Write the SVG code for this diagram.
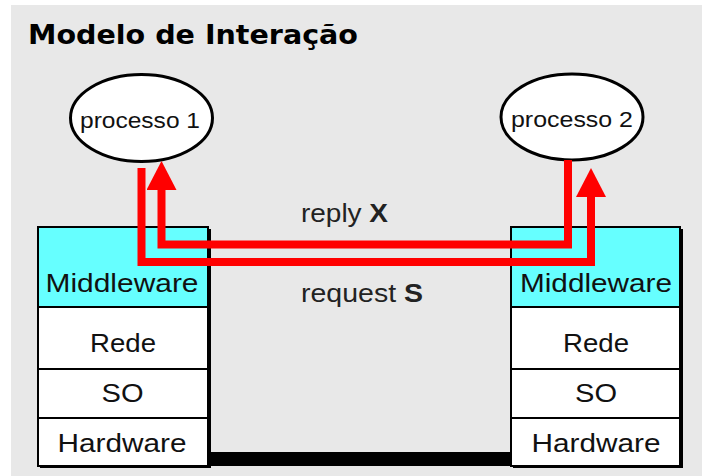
<svg xmlns="http://www.w3.org/2000/svg" width="702" height="476" viewBox="0 0 702 476">
  <style>
    .title { font-family: Verdana, "DejaVu Sans", sans-serif; font-weight: bold; font-size: 27px; fill: #000; }
    .proc { fill: #fff; stroke: #000; stroke-width: 3; }
    .proc-label { font-family: "Comic Sans MS", "Liberation Sans", sans-serif; font-size: 22px; fill: #111; text-anchor: middle; }
    .layer { stroke: #000; stroke-width: 2; }
    .mw { fill: #66ffff; }
    .plain { fill: #fff; }
    .shadow { fill: #000; }
    .layer-label { font-family: "Comic Sans MS", "Liberation Sans", sans-serif; font-size: 26px; fill: #111; text-anchor: middle; }
    .msg { font-family: "Liberation Sans", Arial, sans-serif; font-size: 26px; fill: #222; }
    .msg .b { font-weight: bold; }
    .wire { fill: none; stroke: #ff0000; stroke-width: 8; stroke-linejoin: miter; stroke-linecap: butt; }
  </style>
  <defs>
    <marker id="arrow" markerUnits="userSpaceOnUse" viewBox="0 0 29 30" markerWidth="29" markerHeight="30" refX="0" refY="15" orient="auto">
      <path d="M0,0 L29,15 L0,30 Z" fill="#ff0000"/>
    </marker>
  </defs>

  <!-- panel background -->
  <rect x="11" y="5" width="691" height="471" fill="#e8e8e8"/>

  <text class="title" x="28" y="44" textLength="330" lengthAdjust="spacingAndGlyphs">Modelo de Interação</text>

  <!-- processes -->
  <g id="processo1">
    <ellipse class="proc" cx="141.5" cy="118" rx="71" ry="43.5"/>
    <text class="proc-label" x="140" y="128" textLength="120" lengthAdjust="spacingAndGlyphs">processo 1</text>
  </g>
  <g id="processo2">
    <ellipse class="proc" cx="572" cy="117" rx="71" ry="43"/>
    <text class="proc-label" x="572" y="127" textLength="122" lengthAdjust="spacingAndGlyphs">processo 2</text>
  </g>

  <!-- left host stack -->
  <g id="host1">
    <rect class="shadow" x="40" y="229" width="171" height="239"/>
    <rect class="layer mw" x="38" y="227" width="170" height="80"/>
    <rect class="layer plain" x="38" y="307" width="170" height="62"/>
    <rect class="layer plain" x="38" y="369" width="170" height="49"/>
    <rect class="layer plain" x="38" y="418" width="170" height="48"/>
    <text class="layer-label" x="122" y="292" textLength="153" lengthAdjust="spacingAndGlyphs">Middleware</text>
    <text class="layer-label" x="123" y="352" textLength="66" lengthAdjust="spacingAndGlyphs">Rede</text>
    <text class="layer-label" x="122.5" y="401.5" textLength="42" lengthAdjust="spacingAndGlyphs">SO</text>
    <text class="layer-label" x="122" y="451.5" textLength="129" lengthAdjust="spacingAndGlyphs">Hardware</text>
  </g>

  <!-- right host stack -->
  <g id="host2">
    <rect class="shadow" x="513" y="229" width="170" height="239"/>
    <rect class="layer mw" x="511" y="227" width="169" height="80"/>
    <rect class="layer plain" x="511" y="307" width="169" height="62"/>
    <rect class="layer plain" x="511" y="369" width="169" height="49"/>
    <rect class="layer plain" x="511" y="418" width="169" height="48"/>
    <text class="layer-label" x="596" y="291.5" textLength="152" lengthAdjust="spacingAndGlyphs">Middleware</text>
    <text class="layer-label" x="596" y="352" textLength="66" lengthAdjust="spacingAndGlyphs">Rede</text>
    <text class="layer-label" x="596" y="401.5" textLength="42" lengthAdjust="spacingAndGlyphs">SO</text>
    <text class="layer-label" x="596" y="451.5" textLength="129" lengthAdjust="spacingAndGlyphs">Hardware</text>
  </g>

  <!-- physical link -->
  <g id="link">
    <rect x="208" y="452" width="304" height="14" fill="#000"/>
  </g>

  <!-- messages -->
  <g id="connectors">
    <path class="wire" d="M141.5,168 V262 H591 V197" marker-end="url(#arrow)"/>
    <path class="wire" d="M568,160 V244.5 H161.5 V190" marker-end="url(#arrow)"/>
  </g>

  <text class="msg" x="301" y="222" textLength="87" lengthAdjust="spacingAndGlyphs">reply <tspan class="b">X</tspan></text>
  <text class="msg" x="301" y="302" textLength="122" lengthAdjust="spacingAndGlyphs">request <tspan class="b">S</tspan></text>
</svg>
